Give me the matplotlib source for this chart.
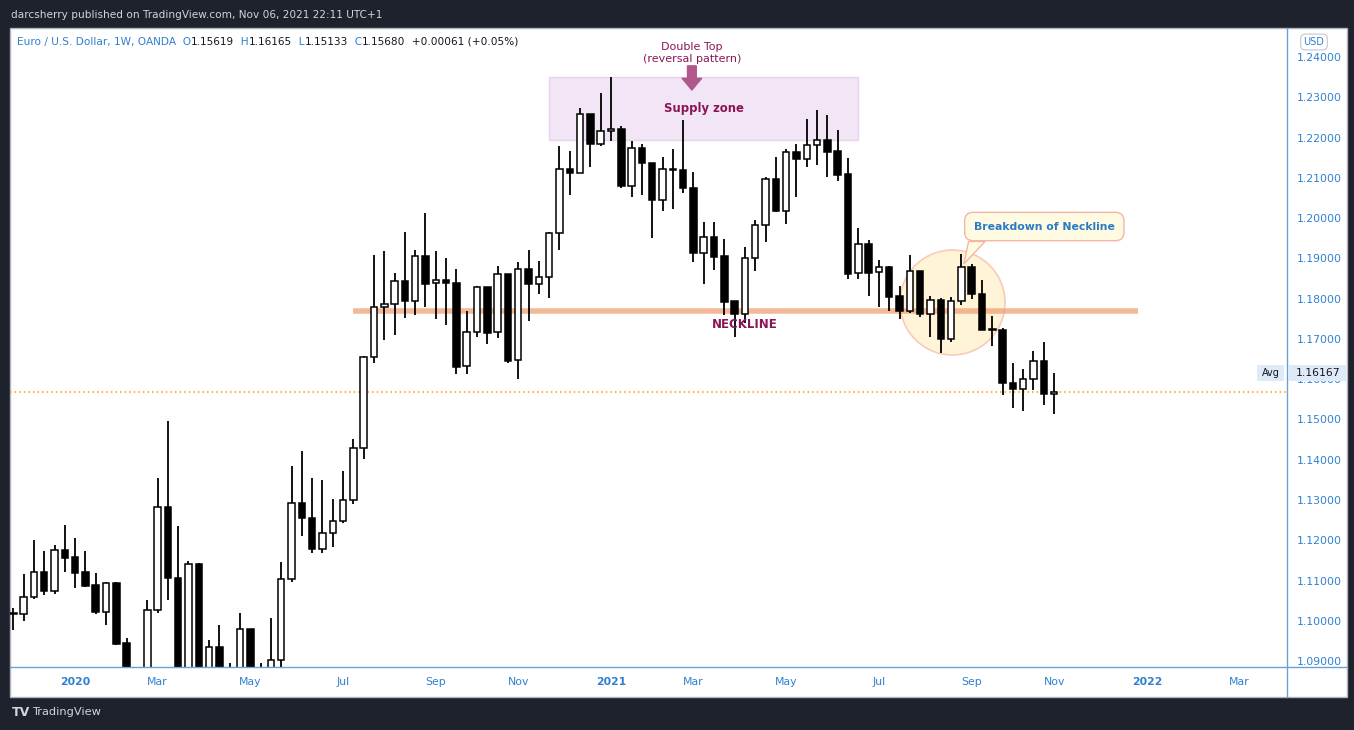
import matplotlib
matplotlib.use('Agg')
import matplotlib.pyplot as plt
import matplotlib.dates as mdates
from matplotlib.patches import Rectangle, Polygon
from matplotlib.lines import Line2D
import pandas as pd

# weekly EUR/USD candles (first bar = week of 25 Nov 2019)
opens = [1.1018, 1.1018, 1.1058, 1.1120, 1.1075, 1.1175, 1.1158, 1.1120, 1.1089, 1.1023,
         1.1094, 1.0944, 1.0830, 1.0847, 1.1026, 1.1282, 1.1106, 1.0690, 1.1141, 1.0800,
         1.0934, 1.0876, 1.0822, 1.0979, 1.0840, 1.0818, 1.0902, 1.1103, 1.1292, 1.1255,
         1.1177, 1.1217, 1.1247, 1.1299, 1.1428, 1.1654, 1.1778, 1.1786, 1.1843, 1.1795,
         1.1905, 1.1838, 1.1846, 1.1840, 1.1632, 1.1716, 1.1828, 1.1716, 1.1860, 1.1647,
         1.1873, 1.1836, 1.1854, 1.1962, 1.2121, 1.2111, 1.2258, 1.2185, 1.2215, 1.2220,
         1.2080, 1.2173, 1.2138, 1.2046, 1.2122, 1.2119, 1.2075, 1.1913, 1.1952, 1.1906,
         1.1794, 1.1761, 1.1900, 1.1982, 1.2097, 1.2018, 1.2163, 1.2146, 1.2181, 1.2193,
         1.2167, 1.2109, 1.1863, 1.1935, 1.1865, 1.1878, 1.1806, 1.1770, 1.1868, 1.1761,
         1.1796, 1.1699, 1.1793, 1.1878, 1.1811, 1.1724, 1.1722, 1.1591, 1.1575, 1.1600,
         1.1644, 1.15619]
highs = [1.1032, 1.1116, 1.1201, 1.1173, 1.1188, 1.1238, 1.1206, 1.1173, 1.1118, 1.1096,
         1.1096, 1.0957, 1.0870, 1.1052, 1.1354, 1.1496, 1.1235, 1.1148, 1.1143, 1.0952,
         1.0990, 1.0896, 1.1019, 1.0979, 1.0896, 1.1007, 1.1146, 1.1384, 1.1422, 1.1355,
         1.1350, 1.1302, 1.1372, 1.1451, 1.1658, 1.1908, 1.1918, 1.1864, 1.1965, 1.1921,
         1.2013, 1.1918, 1.1901, 1.1874, 1.1769, 1.1831, 1.1828, 1.1881, 1.1860, 1.1891,
         1.1921, 1.1893, 1.1966, 1.2179, 1.2167, 1.2273, 1.2258, 1.2311, 1.2350, 1.2229,
         1.2191, 1.2183, 1.2138, 1.2151, 1.2171, 1.2244, 1.2114, 1.1990, 1.1990, 1.1947,
         1.1794, 1.1927, 1.1995, 1.2102, 1.2151, 1.2172, 1.2184, 1.2245, 1.2268, 1.2256,
         1.2219, 1.2148, 1.1975, 1.1946, 1.1896, 1.1882, 1.1831, 1.1908, 1.1868, 1.1807,
         1.1801, 1.1805, 1.1911, 1.1886, 1.1846, 1.1757, 1.1728, 1.1639, 1.1625, 1.1670,
         1.1692, 1.16165]
lows = [1.0977, 1.1000, 1.1053, 1.1064, 1.1067, 1.1121, 1.1082, 1.1085, 1.1017, 1.0990,
        1.0940, 1.0828, 1.0778, 1.0840, 1.1020, 1.1052, 1.0636, 1.0636, 1.0768, 1.0770,
        1.0813, 1.0727, 1.0810, 1.0782, 1.0775, 1.0780, 1.0886, 1.1097, 1.1211, 1.1168,
        1.1168, 1.1184, 1.1242, 1.1290, 1.1401, 1.1641, 1.1696, 1.1710, 1.1753, 1.1760,
        1.1780, 1.1750, 1.1735, 1.1612, 1.1614, 1.1705, 1.1688, 1.1703, 1.1639, 1.1601,
        1.1745, 1.1812, 1.1801, 1.1921, 1.2058, 1.2111, 1.2128, 1.2180, 1.2192, 1.2074,
        1.2053, 1.2057, 1.1951, 1.2018, 1.2023, 1.2062, 1.1892, 1.1836, 1.1872, 1.1759,
        1.1704, 1.1739, 1.1869, 1.1941, 1.2016, 1.1986, 1.2052, 1.2126, 1.2132, 1.2103,
        1.2093, 1.1848, 1.1848, 1.1807, 1.1780, 1.1770, 1.1750, 1.1764, 1.1754, 1.1705,
        1.1664, 1.1692, 1.1784, 1.1800, 1.1723, 1.1682, 1.1561, 1.1528, 1.1522, 1.1573,
        1.1535, 1.15133]
closes = [1.1020, 1.1058, 1.1120, 1.1075, 1.1175, 1.1157, 1.1119, 1.1087, 1.1023, 1.1093,
          1.0942, 1.0830, 1.0847, 1.1026, 1.1282, 1.1105, 1.0690, 1.1140, 1.0800, 1.0934,
          1.0876, 1.0822, 1.0979, 1.0840, 1.0818, 1.0902, 1.1103, 1.1292, 1.1255, 1.1177,
          1.1217, 1.1247, 1.1299, 1.1428, 1.1654, 1.1778, 1.1786, 1.1843, 1.1795, 1.1905,
          1.1837, 1.1846, 1.1840, 1.1631, 1.1716, 1.1828, 1.1715, 1.1860, 1.1646, 1.1873,
          1.1836, 1.1854, 1.1962, 1.2121, 1.2111, 1.2258, 1.2185, 1.2215, 1.2220, 1.2080,
          1.2173, 1.2138, 1.2046, 1.2121, 1.2119, 1.2074, 1.1913, 1.1952, 1.1904, 1.1792,
          1.1761, 1.1900, 1.1982, 1.2096, 1.2018, 1.2163, 1.2146, 1.2181, 1.2193, 1.2165,
          1.2108, 1.1862, 1.1936, 1.1864, 1.1878, 1.1805, 1.1770, 1.1868, 1.1761, 1.1796,
          1.1699, 1.1793, 1.1878, 1.1811, 1.1723, 1.1721, 1.1591, 1.1575, 1.1600, 1.1644,
          1.1562, 1.15680]
dates = pd.date_range('2019-11-25', periods=len(opens), freq='7D')

price_ticks = [1.09, 1.10, 1.11, 1.12, 1.13, 1.14, 1.15, 1.16, 1.17, 1.18, 1.19, 1.20,
               1.21, 1.22, 1.23, 1.24]
month_ticks = ['2020-01-06', '2020-03-02', '2020-05-04', '2020-07-06', '2020-09-07',
               '2020-11-02', '2021-01-04', '2021-03-01', '2021-05-03', '2021-07-05',
               '2021-09-06', '2021-11-01', '2022-01-03', '2022-03-07']
month_labels = ['2020', 'Mar', 'May', 'Jul', 'Sep', 'Nov', '2021', 'Mar', 'May', 'Jul',
                'Sep', 'Nov', '2022', 'Mar']

avg_price = 1.16167
neckline = 1.1769
supply_top, supply_bottom = 1.2350, 1.2193

BG = '#1e222d'
BLUE = '#2f80d1'
MAROON = '#8a1656'
W, H = 1354, 730


def fx(px):
    return px / W


def fy(py):
    return 1 - py / H


fig = plt.figure(figsize=(W / 100, H / 100), dpi=100, facecolor=BG)
fig.patches.append(Rectangle((fx(10), fy(697)), fx(1347) - fx(10), fy(28) - fy(697),
                             transform=fig.transFigure, facecolor='white',
                             edgecolor='#b0b3ba', lw=1, zorder=-5))

ax = fig.add_axes([fx(10), fy(667), fx(1287) - fx(10), fy(28) - fy(667)])
ax.set_facecolor('none')
for s in ax.spines.values():
    s.set_visible(False)

d = mdates.date2num(dates)
week = 7.0
ax.set_xlim(d[0] - 0.32 * week, d[0] + 123.6 * week)
ax.set_ylim(1.08852, 1.2472)

# candles
body_w = 4.4
for x, o, h, l, c in zip(d, opens, highs, lows, closes):
    ax.vlines(x, l, h, color='black', lw=1.3, zorder=3)
    up = c >= o
    ax.bar(x, max(abs(c - o), 0.00002), bottom=min(o, c), width=body_w,
           color='white' if up else 'black', edgecolor='black', lw=1.1, zorder=4)

# last price dotted line
ax.axhline(closes[-1], color='#ff9800', ls=(0, (1, 2)), lw=1.1, zorder=2)

# supply zone
ax.add_patch(Rectangle((d[0] + 52 * week, supply_bottom), 30 * week, supply_top - supply_bottom,
                       facecolor='#f2e5f5', edgecolor='#e6d3ec', lw=1, zorder=1))
ax.text(d[0] + 67 * week, 1.2273, 'Supply zone', color=MAROON, fontsize=8.4,
        fontweight='bold', ha='center', va='center', zorder=5)
ax.text(d[0] + 65.85 * week, 1.2426, 'Double Top', color=MAROON, fontsize=8,
        ha='center', va='center', zorder=5)
ax.text(d[0] + 65.85 * week, 1.2396, '(reversal pattern)', color=MAROON, fontsize=8,
        ha='center', va='center', zorder=5)
ax.annotate('', xy=(d[0] + 65.85 * week, 1.2318), xytext=(d[0] + 65.85 * week, 1.2378),
            arrowprops=dict(arrowstyle='simple,head_length=0.6,head_width=1.0,tail_width=0.45',
                            color='#b0588b', mutation_scale=14, shrinkA=0, shrinkB=0), zorder=5)

# breakdown circle
ax.scatter([d[0] + 91.07 * week], [1.1792], s=5715, facecolor='#fff3d8', edgecolor='#f7cbb8',
           lw=1.2, zorder=1.5)

# neckline
ax.plot([d[0] + 32.96 * week, d[0] + 109.1 * week], [neckline, neckline], color='#ee9e72',
        alpha=0.72, lw=4.0, solid_capstyle='butt', zorder=2)
ax.text(d[0] + 70.97 * week, 1.1735, 'NECKLINE', color=MAROON, fontsize=8.5, fontweight='bold',
        ha='center', va='center', zorder=5)

# callout
ax.add_patch(Polygon([(d[0] + 92.7 * week, 1.1942), (d[0] + 92.24 * week, 1.1886),
                      (d[0] + 94.3 * week, 1.1942)], closed=True, facecolor='#fffbe3',
                     edgecolor='#f5b5a5', lw=1, zorder=6))
ax.text(d[0] + 100.05 * week, 1.1979, 'Breakdown of Neckline', color='#2a7bc6', fontsize=7.8,
        fontweight='bold', ha='center', va='center', zorder=7,
        bbox=dict(boxstyle='round,pad=0.85,rounding_size=0.8', facecolor='#fffbe3',
                  edgecolor='#f5b5a5', lw=1))

# axes ticks
ax.yaxis.tick_right()
ax.set_yticks(price_ticks)
ax.set_yticklabels(['%.5f' % p for p in price_ticks])
ax.tick_params(axis='y', length=0, pad=7, labelcolor=BLUE, labelsize=7.8)
ax.set_xticks(mdates.date2num(pd.to_datetime(month_ticks)))
ax.set_xticklabels(month_labels)
ax.tick_params(axis='x', length=0, pad=7, labelcolor=BLUE, labelsize=7.8)
for lab in ax.get_xticklabels():
    if lab.get_text().isdigit():
        lab.set_fontweight('bold')

# axis lines
fig.lines.append(Line2D([fx(10), fx(1347)], [fy(667), fy(667)], transform=fig.transFigure,
                        color='#6aa2d8', lw=1))
fig.lines.append(Line2D([fx(1287), fx(1287)], [fy(28), fy(697)], transform=fig.transFigure,
                        color='#6aa2d8', lw=1))

# avg label on the price scale
fig.patches.append(Rectangle((fx(1288), fy(381)), fx(1346) - fx(1288), fy(365) - fy(381),
                             transform=fig.transFigure, facecolor='#dfeaf8', edgecolor='none',
                             zorder=3))
fig.text(fx(1296), fy(373), '%.5f' % avg_price, fontsize=7.8, color='#131722', ha='left',
         va='center', zorder=4)
fig.patches.append(Rectangle((fx(1257), fy(381)), fx(1284) - fx(1257), fy(365) - fy(381),
                             transform=fig.transFigure, facecolor='#dfeaf8', edgecolor='none',
                             zorder=3))
fig.text(fx(1270.5), fy(373), 'Avg', fontsize=7, color='#131722', ha='center',
         va='center', zorder=4)

# USD box
fig.text(fx(1314), fy(42), 'USD', color=BLUE, fontsize=7, ha='center', va='center',
         bbox=dict(boxstyle='round,pad=0.3,rounding_size=0.5', facecolor='white',
                   edgecolor='#c4c7ce', lw=0.8))

# header texts
fig.text(fx(11), fy(15), 'darcsherry published on TradingView.com, Nov 06, 2021 22:11 UTC+1',
         color='#d1d4dc', fontsize=7.6, ha='left', va='center')

renderer = fig.canvas.get_renderer()
parts = [('Euro / U.S. Dollar, 1W, OANDA', BLUE), ('  O', BLUE), ('1.15619', '#131722'),
         ('  H', BLUE), ('1.16165', '#131722'), ('  L', BLUE), ('1.15133', '#131722'),
         ('  C', BLUE), ('1.15680', '#131722'), ('  +0.00061 (+0.05%)', '#131722')]
xpos = 17
for s, c in parts:
    t = fig.text(fx(xpos), fy(42), s, color=c, fontsize=7.6, ha='left', va='center')
    xpos += t.get_window_extent(renderer).width

fig.text(fx(12), fy(712), 'TV', color='#d1d4dc', fontsize=9, fontweight='bold',
         ha='left', va='center')
fig.text(fx(32), fy(712), 'TradingView', color='#d1d4dc', fontsize=8.2,
         ha='left', va='center')

fig.savefig('out.png', dpi=100, facecolor=BG)
